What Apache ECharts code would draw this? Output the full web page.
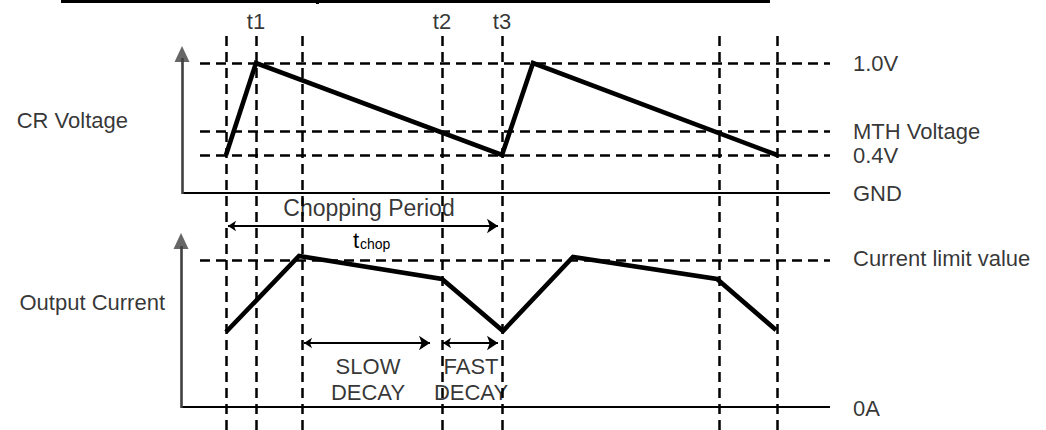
<!DOCTYPE html>
<html>
<head>
<meta charset="utf-8">
<script src="https://cdn.jsdelivr.net/npm/echarts@6/dist/echarts.min.js"></script>
<style>
  html, body { margin: 0; padding: 0; background: #fff; }
  #chart { width: 1046px; height: 430px; }
</style>
</head>
<body>
<div id="chart"></div>
<script>
// diagram units = page pixels (x: time, y: level, measured downward)
const guideTimes = [226, 256, 302, 442, 502, 719, 777];
const guideNames = ['', 't1', '', 't2', 't3', '', ''];

// CR voltage waveform
const crTimes = [226, 256, 502, 533, 777];
const crLevels = [155, 63, 155, 63, 155];

// output current waveform
const curTimes = [226, 299, 442, 503, 573, 717, 776];
const curLevels = [332, 256, 279, 331, 257, 279, 330];

// reference levels and their labels
const crRefLevels = [63, 131, 155];
const crRefNames = ['1.0V', 'MTH Voltage', '0.4V'];
const crGndLevel = 193;
const curRefLevels = [260];
const curRefNames = ['Current limit value'];
const curZeroLevel = 407;

// interval markers
const chopSpan = [228, 498];
const slowSpan = [304, 430];
const fastSpan = [443, 498];

const FONT = '"Liberation Sans", Arial, sans-serif';
const X0 = 182, XEND = 830, REFSTART = 200, LABELX = 853;

const myChart = echarts.init(document.getElementById('chart'), null, { renderer: 'svg' });

const dashed = { color: '#000', width: 2.5, type: [10, 6] };

const pts = (xs, ys) => xs.map((x, i) => [x, ys[i]]);

const textSeries = (items, align, size) => ({
  type: 'scatter',
  symbolSize: 0,
  silent: true,
  z: 10,
  data: items.map(d => ({ value: [d[0], d[1]], name: d[2] })),
  label: {
    show: true,
    position: 'inside',
    formatter: p => p.name,
    align: align,
    verticalAlign: 'middle',
    color: '#000',
    fontSize: size || 22,
    fontFamily: FONT,
  },
});

const option = {
  animation: false,
  backgroundColor: '#fff',
  grid: { left: 0, right: 0, top: 0, bottom: 0 },
  xAxis: { type: 'value', min: 0, max: 1046, show: false },
  yAxis: { type: 'value', min: 0, max: 430, inverse: true, show: false },
  series: [
    // remnant of the table border at the top
    {
      type: 'lines', coordinateSystem: 'cartesian2d', silent: true,
      lineStyle: { color: '#000', width: 3, opacity: 1 },
      data: [{ coords: [[61, 1], [770, 1]] }, { coords: [[317, 0], [317, 4]] }],
    },
    // vertical dashed guides
    {
      type: 'lines', coordinateSystem: 'cartesian2d', silent: true,
      lineStyle: Object.assign({ opacity: 1 }, dashed),
      data: guideTimes.map(t => ({ coords: [[t, 36], [t, 432]] })),
    },
    // horizontal dashed reference levels
    {
      type: 'lines', coordinateSystem: 'cartesian2d', silent: true,
      lineStyle: Object.assign({ opacity: 1 }, dashed),
      data: crRefLevels.concat(curRefLevels).map(v => ({ coords: [[REFSTART, v], [XEND, v]] })),
    },
    // horizontal axes (GND, 0A)
    {
      type: 'lines', coordinateSystem: 'cartesian2d', silent: true,
      lineStyle: { color: '#000', width: 2.2, opacity: 1 },
      data: [
        { coords: [[X0, crGndLevel], [XEND, crGndLevel]] },
        { coords: [[X0 - 1, curZeroLevel], [XEND, curZeroLevel]] },
      ],
    },
    // vertical axes
    {
      type: 'lines', coordinateSystem: 'cartesian2d', silent: true,
      lineStyle: { color: '#404040', width: 2.6, opacity: 1 },
      data: [
        { coords: [[X0, crGndLevel + 1], [X0, 58]] },
        { coords: [[X0 - 1, curZeroLevel + 1], [X0 - 1, 246]] },
      ],
    },
    // axis arrow heads
    {
      type: 'scatter', silent: true,
      symbol: 'triangle', symbolSize: [15, 16],
      itemStyle: { color: '#404040' },
      data: [[X0, 54], [X0 - 1, 241]],
    },
    // CR voltage
    {
      type: 'lines', coordinateSystem: 'cartesian2d', polyline: true, silent: true, z: 5,
      lineStyle: { color: '#000', width: 4.6, opacity: 1, join: 'miter' },
      data: [{ coords: pts(crTimes, crLevels) }],
    },
    // output current
    {
      type: 'lines', coordinateSystem: 'cartesian2d', polyline: true, silent: true, z: 5,
      lineStyle: { color: '#000', width: 4.6, opacity: 1, join: 'miter' },
      data: [{ coords: pts(curTimes, curLevels) }],
    },
    // double headed interval arrows
    {
      type: 'lines', coordinateSystem: 'cartesian2d', silent: true, z: 5,
      symbol: ['arrow', 'arrow'], symbolSize: [8, 11],
      lineStyle: { color: '#000', width: 2, opacity: 1 },
      data: [
        { coords: [[chopSpan[0], 226], [chopSpan[1], 226]] },
        { coords: [[slowSpan[0], 343], [slowSpan[1], 343]] },
        { coords: [[fastSpan[0], 343], [fastSpan[1], 343]] },
      ],
    },
    // time labels
    textSeries(guideTimes.map((t, i) => [t, 21, guideNames[i]]).filter(d => d[2]), 'center'),
    // level labels at the right
    textSeries(
      crRefLevels.map((v, i) => [LABELX, v, crRefNames[i]])
        .concat([[LABELX, crGndLevel, 'GND']])
        .concat(curRefLevels.map((v, i) => [LABELX, v - 2, curRefNames[i]]))
        .concat([[LABELX, curZeroLevel + 1, '0A']]),
      'left'
    ),
    // signal names at the left
    textSeries([[128, 120, 'CR Voltage'], [165, 302, 'Output Current']], 'right'),
    // interval captions
    textSeries([[369, 208, 'Chopping Period']], 'center', 23),
    textSeries([
      [368, 366, 'SLOW'], [368, 392, 'DECAY'],
      [471, 366, 'FAST'], [471, 392, 'DECAY'],
    ], 'center'),
  ],
  graphic: [
    {
      type: 'text', left: 353, top: 229, z: 20,
      style: { text: 't', fontSize: 22, fontFamily: FONT, fill: '#000' },
    },
    {
      type: 'text', left: 360, top: 237, z: 20,
      style: { text: 'chop', fontSize: 14, fontFamily: FONT, fill: '#000' },
    },
  ],
};

myChart.setOption(option);
</script>
</body>
</html>
